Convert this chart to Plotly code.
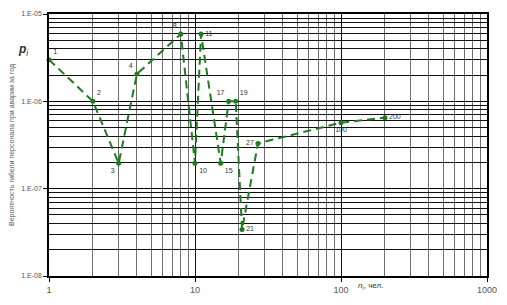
import plotly.graph_objects as go

n_values = [1, 2, 3, 4, 8, 10, 11, 15, 17, 19, 21, 27, 100, 200]
p_values = [3.0e-6, 1.0e-6, 1.95e-7, 2.05e-6, 5.9e-6, 1.95e-7, 5.9e-6, 1.95e-7,
            1.0e-6, 1.0e-6, 3.4e-8, 3.3e-7, 5.7e-7, 6.5e-7]
point_labels = ["1", "2", "3", "4", "8", "10", "11", "15", "17", "19", "21", "27", "100", "200"]
label_positions = ["top right", "top right", "bottom left", "top left", "top left",
                   "bottom right", "middle right", "bottom right", "top left", "top right",
                   "middle right", "middle left", "bottom center", "middle right"]
y_tickvals = [1e-8, 1e-7, 1e-6, 1e-5]
y_ticktext = ["1.E-08", "1.E-07", "1.E-06", "1.E-05"]
x_tickvals = [1, 10, 100, 1000]
x_ticktext = ["1", "10", "100", "1000"]

green = "#1e7b1e"

fig = go.Figure()
fig.add_trace(go.Scatter(
    x=n_values, y=p_values, mode="lines+markers+text",
    line=dict(color=green, width=2, dash="8px,5px"),
    marker=dict(color=green, size=5),
    text=point_labels, textposition=label_positions,
    textfont=dict(family="Arial, Liberation Sans, sans-serif", size=7, color="#333333"),
    cliponaxis=False,
    showlegend=False,
))

fig.update_layout(
    width=507, height=305,
    margin=dict(l=44, r=13, t=10, b=23),
    paper_bgcolor="white", plot_bgcolor="white",
    font=dict(family="Arial, Liberation Sans, sans-serif", color="#444444"),
    xaxis=dict(
        type="log", range=[0, 3],
        tickvals=x_tickvals, ticktext=x_ticktext,
        tickfont=dict(size=9, color="#555555"),
        showgrid=True, gridcolor="#111111", gridwidth=1,
        showline=True, linecolor="black", linewidth=1.5, mirror=True,
        ticks="outside", ticklen=4, tickcolor="black",
        minor=dict(showgrid=True, gridcolor="#6e6e6e", gridwidth=1, dtick="D1", ticks=""),
        zeroline=False,
    ),
    yaxis=dict(
        type="log", range=[-8, -5],
        tickvals=y_tickvals, ticktext=y_ticktext,
        tickfont=dict(size=7, color="#555555"),
        showgrid=True, gridcolor="#000000", gridwidth=1,
        showline=True, linecolor="black", linewidth=1.5, mirror=True,
        ticks="outside", ticklen=4, tickcolor="black",
        minor=dict(showgrid=True, gridcolor="#111111", gridwidth=1, dtick="D1", ticks=""),
        zeroline=False,
        title=dict(text="Вероятность гибели персонала при аварии за год",
                   font=dict(size=7, color="#555555"), standoff=6),
    ),
    annotations=[
        dict(text="<b><i>p</i></b><sub><i>i</i></sub>", xref="paper", yref="paper",
             x=-0.04, y=0.9, showarrow=False, xanchor="right",
             font=dict(size=12, color="#333333")),
        dict(text="<i>n</i><sub><i>i</i></sub>, чел.", xref="paper", yref="paper",
             x=0.7, y=-0.01, showarrow=False, xanchor="left", yanchor="top",
             font=dict(size=8, color="#333333")),
    ],
)

fig.write_html("out.html")
